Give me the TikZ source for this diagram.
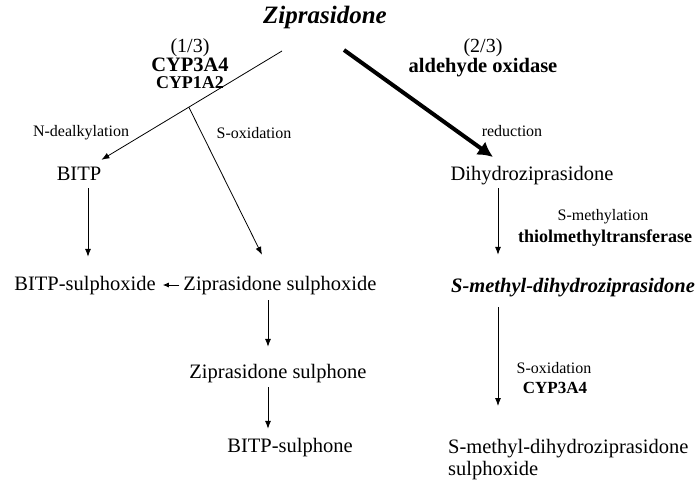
\documentclass[tikz,border=0pt]{standalone}
\usepackage{fontspec}
\setmainfont{Liberation Serif}
\usetikzlibrary{arrows.meta,calc}

\tikzset{
  cmpd/.style={font=\fontsize{20.5}{23}\selectfont, inner sep=1pt, text height=14pt, text depth=4pt},
  enz/.style={font=\fontsize{16}{18}\selectfont, inner sep=1pt},
  route/.style={inner sep=0pt, anchor=base},
  conv/.style={line width=0.8pt, -{Latex[length=8pt,width=6pt]}},
  major/.style={line width=4pt, -{Latex[length=15pt,width=16pt]}},
}

\begin{document}
\begin{tikzpicture}[x=1pt,y=-1pt]
\useasboundingbox (0,0) rectangle (698,480);

% parent drug and the two routes
\node[cmpd, font=\fontsize{25}{27}\selectfont\bfseries\itshape] (zip) at (325,18) {Ziprasidone};
\node[route, font=\fontsize{20}{22}\selectfont] (frac1) at (190,52) {(1/3)};
\node[route, font=\fontsize{20.5}{22}\selectfont\bfseries] (cyp3) at (190,71) {CYP3A4};
\node[route, font=\fontsize{18}{20}\selectfont\bfseries] (cyp1) at (190,88.5) {CYP1A2};
\node[route, font=\fontsize{20}{22}\selectfont] (frac2) at (483,52) {(2/3)};
\node[route, font=\fontsize{20.5}{22}\selectfont\bfseries] (ao) at (483,72) {aldehyde oxidase};

\node[enz] (ndeal) at (81,133) {N-dealkylation};
\node[enz] (sox) at (254,133) {S-oxidation};
\node[enz] (red) at (512,131) {reduction};

% oxidative side
\node[cmpd] (bitp) at (79,175) {BITP};
\node[cmpd] (bsox) at (85,285) {BITP-sulphoxide};
\node[cmpd] (zsox) at (280,285) {Ziprasidone sulphoxide};
\node[cmpd] (zsone) at (278,373) {Ziprasidone sulphone};
\node[cmpd] (bsone) at (290,447) {BITP-sulphone};

% reductive side
\node[cmpd] (dhz) at (532,175) {Dihydroziprasidone};
\node[enz] (smeth) at (603,217) {S-methylation};
\node[enz, font=\fontsize{18}{20}\selectfont\bfseries] (tmt) at (605,238) {thiolmethyltransferase};
\node[cmpd, font=\fontsize{20.5}{23}\selectfont\bfseries\itshape] (smdz) at (573,287) {S-methyl-dihydroziprasidone};
\node[enz] (soxr) at (554,368) {S-oxidation};
\node[enz, font=\fontsize{17}{19}\selectfont\bfseries] (cyp3r) at (555,388) {CYP3A4};
\node[font=\fontsize{20.5}{22}\selectfont, inner sep=1pt, align=left, anchor=north west] (smdzs) at (447,438) {S-methyl-dihydroziprasidone\\sulphoxide};

\coordinate (l0) at (282,51);
\coordinate (l1) at ($(bitp.north east)+(-1,-5)$);
\coordinate (j) at ($(l0)!0.516!(l1)$);
\coordinate (r0) at (344,50);
\coordinate (r1) at (493,157);

\draw[conv] (l0) -- (l1);
\draw[conv] (j) -- ($(zsox.north)+(-18,-20)$);
\draw[major] (r0) -- (r1);

\draw[conv, shorten <=3pt, shorten >=18pt] ([xshift=9pt]bitp.south) -- ([xshift=9pt]bitp.south |- bsox.north);
\draw[conv, -{Latex[length=6pt,width=5pt]}, shorten <=3pt, shorten >=6pt] (zsox.west) -- (bsox.east);
\draw[conv, shorten <=5pt, shorten >=16pt] ([xshift=-12pt]zsox.south) -- ([xshift=-12pt]zsox.south |- zsone.north);
\draw[conv, shorten <=4pt, shorten >=8pt] ([xshift=-10pt]zsone.south) -- ([xshift=-10pt]zsone.south |- bsone.north);

\draw[conv, shorten <=3pt, shorten >=22pt] ([xshift=-34pt]dhz.south) -- ([xshift=-34pt]dhz.south |- smdz.north);
\draw[conv, shorten <=10pt, shorten >=32pt] ([xshift=-75pt]smdz.south) -- ([xshift=-75pt]smdz.south |- smdzs.north);
\end{tikzpicture}
\end{document}
